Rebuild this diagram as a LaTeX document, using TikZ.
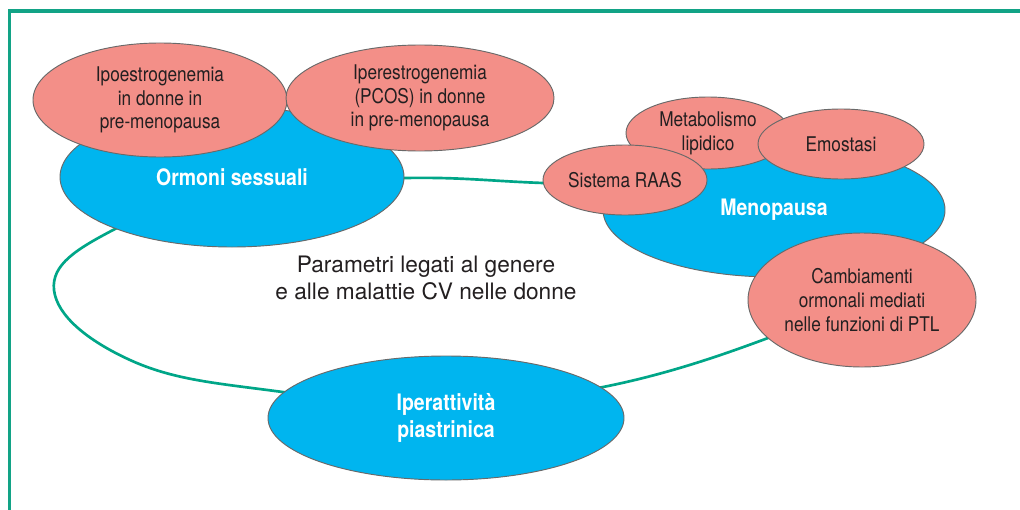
\documentclass[tikz,border=0pt]{standalone}
\usepackage{fontspec}
\setmainfont{TeX Gyre Heros}
\newfontfamily\regf[FakeStretch=0.85]{TeX Gyre Heros}
\newfontfamily\boldf[FakeStretch=0.86]{TeX Gyre Heros}
\newfontfamily\centf{TeX Gyre Heros}
\usetikzlibrary{shapes.geometric}
\definecolor{cblue}{RGB}{0,181,239}
\definecolor{cpink}{RGB}{243,143,136}
\definecolor{cgreen}{RGB}{0,166,136}
\definecolor{cborder}{RGB}{18,163,134}
\definecolor{ctext}{RGB}{35,31,32}
\definecolor{cedge}{RGB}{105,105,105}
\tikzset{
  bubble/.style={ellipse, inner sep=0pt, draw=cedge, line width=0.7pt, align=center},
  bluebub/.style={bubble, fill=cblue, text=white, font={\boldf\bfseries\fontsize{17}{19.3}\selectfont}},
  pinkbub/.style={bubble, fill=cpink, text=ctext, font={\regf\fontsize{15.2}{17.8}\selectfont}},
  loopline/.style={draw=cgreen, line width=2pt},
  frameline/.style={draw=cborder, line width=2.6pt}
}
\begin{document}
\begin{tikzpicture}[x=0.75pt,y=-0.75pt]
\useasboundingbox (0,0) rectangle (1020,510);
\fill[white] (0,0) rectangle (1020,510);
% green loop
\draw[loopline] plot[smooth cycle, tension=0.7] coordinates {
  (115,229) (54,290) (130,360) (275,391) (440,401) (598,388) (768,338)
  (860,290) (820,215) (680,188) (543,183) (405,178) (250,188)};
% Ormoni sessuali group
\node[bluebub, minimum width=258pt, minimum height=105pt] (ormoni) at (232,177) {Ormoni sessuali};
\node[pinkbub, minimum width=190.5pt, minimum height=85.5pt] (ipo) at (160,100) {Ipoestrogenemia\\in donne in\\pre-menopausa};
\node[pinkbub, minimum width=201pt, minimum height=79.5pt] (iper) at (420,98) {Iperestrogenemia\\(PCOS) in donne\\in pre-menopausa};
% Menopausa group
\node[bluebub, minimum width=256.5pt, minimum height=100.5pt] (meno) at (774,210) {Menopausa};
\node[pinkbub, minimum width=123pt, minimum height=54pt] (meta) at (708,133) {Metabolismo\\lipidico};
\node[pinkbub, minimum width=124.5pt, minimum height=52.5pt] (emo) at (841,144) {Emostasi};
\node[pinkbub, minimum width=123pt, minimum height=52.5pt] (raas) at (625,180) {Sistema RAAS};
\node[pinkbub, minimum width=171pt, minimum height=100.5pt] (camb) at (862,300) {Cambiamenti\\ormonali mediati\\nelle funzioni di PTL};
% Iperattivita
\node[bluebub, minimum width=267pt, minimum height=93pt, font={\boldf\bfseries\fontsize{17}{20}\selectfont}] (plt) at (446,418) {Iperattività\\piastrinica};
% centre text
\node[align=center, text=ctext, inner sep=0pt, font={\centf\fontsize{17}{20.3}\selectfont}] (title) at (426,278) {Parametri legati al genere\\e alle malattie CV nelle donne};
% frame
\draw[frameline] (9.7,510) -- (9.7,11) -- (1020,11);
\end{tikzpicture}
\end{document}
